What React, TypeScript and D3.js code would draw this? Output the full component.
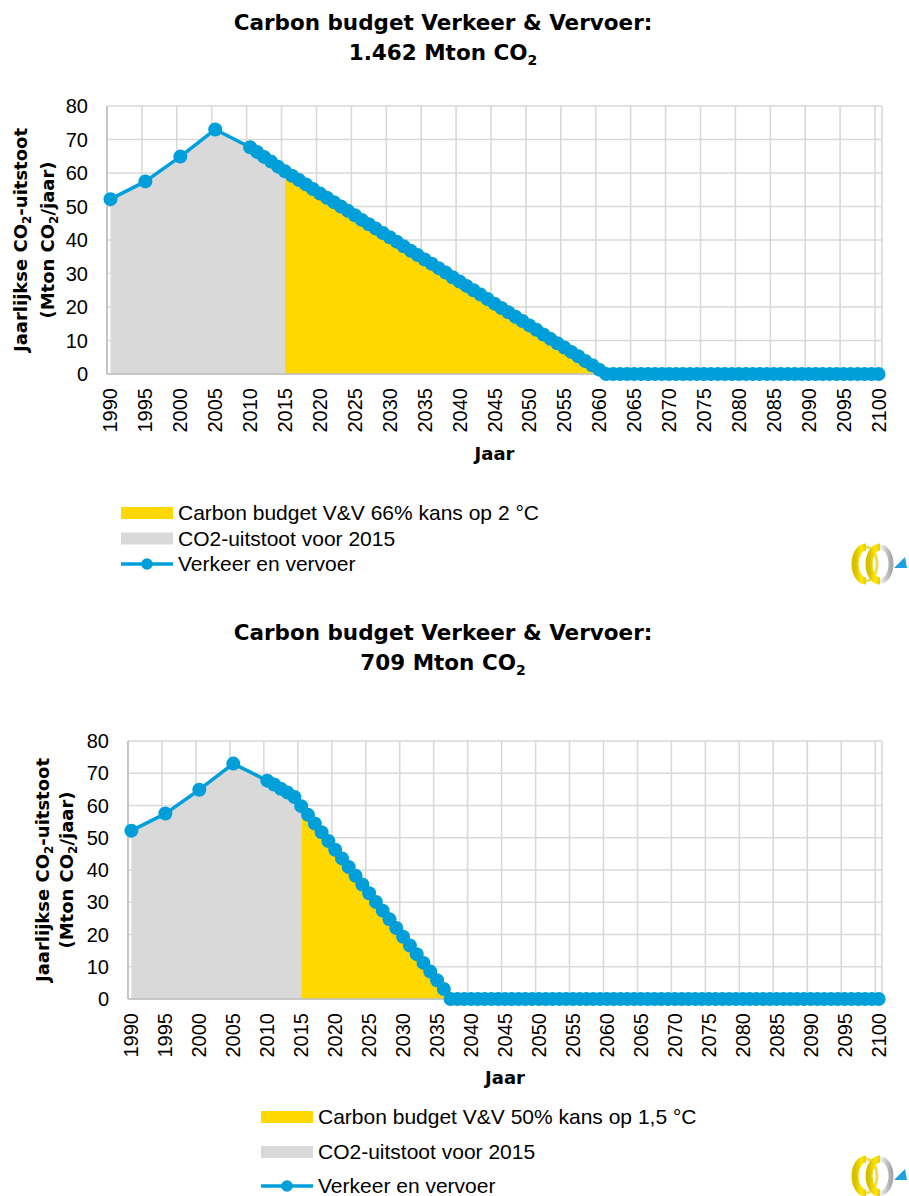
import React from 'react';
import * as d3 from 'd3';

// ---------- data ----------
const histYears = [1990, 1995, 2000, 2005];
const histEmissions = [52.2, 57.5, 64.9, 73.0];

// annual categories 2010 .. 2100
const annualYears = d3.range(2010, 2101);

// Verkeer en vervoer path, 66% kans op 2 °C (2010..2100)
const pathTwoDegrees = [
  67.7, 66.3, 64.8, 63.4, 61.9, 60.5, 59.2, 57.9, 56.6, 55.2,
  53.9, 52.6, 51.3, 50.0, 48.7, 47.4, 46.0, 44.7, 43.4, 42.1,
  40.8, 39.5, 38.1, 36.8, 35.5, 34.2, 32.9, 31.6, 30.3, 28.9,
  27.6, 26.3, 25.0, 23.7, 22.4, 21.0, 19.7, 18.4, 17.1, 15.8,
  14.5, 13.2, 11.8, 10.5, 9.2, 7.9, 6.6, 5.3, 3.9, 2.6,
  1.3, 0, 0, 0, 0, 0, 0, 0, 0, 0,
  0, 0, 0, 0, 0, 0, 0, 0, 0, 0,
  0, 0, 0, 0, 0, 0, 0, 0, 0, 0,
  0, 0, 0, 0, 0, 0, 0, 0, 0, 0,
  0,
];

// Verkeer en vervoer path, 50% kans op 1,5 °C (2010..2100)
const pathOnePointFive = [
  67.7, 66.5, 65.2, 64.0, 62.6, 59.8, 57.1, 54.4, 51.7, 49.0,
  46.3, 43.6, 40.9, 38.2, 35.5, 32.8, 30.1, 27.4, 24.7, 22.0,
  19.3, 16.6, 13.9, 11.2, 8.5, 5.8, 3.1, 0, 0, 0,
  0, 0, 0, 0, 0, 0, 0, 0, 0, 0,
  0, 0, 0, 0, 0, 0, 0, 0, 0, 0,
  0, 0, 0, 0, 0, 0, 0, 0, 0, 0,
  0, 0, 0, 0, 0, 0, 0, 0, 0, 0,
  0, 0, 0, 0, 0, 0, 0, 0, 0, 0,
  0, 0, 0, 0, 0, 0, 0, 0, 0, 0,
  0,
];

const yTickValues = [0, 10, 20, 30, 40, 50, 60, 70, 80];
const xTickLabels = [
  '1990', '1995', '2000', '2005', '2010', '2015', '2020', '2025', '2030', '2035',
  '2040', '2045', '2050', '2055', '2060', '2065', '2070', '2075', '2080', '2085',
  '2090', '2095', '2100',
];

const titleLine1 = 'Carbon budget Verkeer & Vervoer:';
const budgetTwoDegrees = '1.462 Mton CO';
const budgetOnePointFive = '709 Mton CO';
const legendBudgetTwoDegrees = 'Carbon budget V&V 66% kans op 2 °C';
const legendBudgetOnePointFive = 'Carbon budget V&V 50% kans op 1,5 °C';
const legendHistory = 'CO2-uitstoot voor 2015';
const legendSeries = 'Verkeer en vervoer';
const yTitle1 = 'Jaarlijkse CO';
const yTitle1b = '-uitstoot';
const yTitle2a = '(Mton CO';
const yTitle2b = '/jaar)';
const xTitle = 'Jaar';
const splitYear = 2015;

// ---------- styles ----------
const BLUE = '#009FDA';
const YELLOW = '#FFD800';
const GREY = '#D9D9D9';
const GRID = '#D9D9D9';
const TITLE_FONT = '"DejaVu Sans", Verdana, sans-serif';
const TEXT_FONT = '"Liberation Sans", Arial, sans-serif';

type Cfg = {
  values: number[];
  left: number; right: number; top: number; bottom: number;
  titleX: number; title1Y: number; title2Y: number; budgetText: string;
  yTitleY1: number; yTitleY2: number;
  xTitleY: number; tickTopY: number;
  legendX: number; legendYs: number[]; legendBudget: string;
  logoX: number; logoY: number; id: string;
};

function Logo({ x, y, id }: { x: number; y: number; id: string }) {
  const arc = (cx: number, rx: number, left: boolean) =>
    `M${cx},2 A${rx},17 0 0 ${left ? 0 : 1} ${cx},36`;
  return (
    <g transform={`translate(${x},${y})`}>
      <defs>
        <linearGradient id={`ly${id}`} x1="0" x2="1" y1="0" y2="0">
          <stop offset="0" stopColor="#D8C000" />
          <stop offset="0.6" stopColor="#FFE800" />
          <stop offset="1" stopColor="#E6CC00" />
        </linearGradient>
        <linearGradient id={`lgr${id}`} x1="0" x2="1" y1="0" y2="0">
          <stop offset="0" stopColor="#F2F2F2" />
          <stop offset="1" stopColor="#A8A8A8" />
        </linearGradient>
      </defs>
      <path d={arc(15, 11, false)} fill="none" stroke="#EEDD55" strokeWidth={3} />
      <path d={arc(15, 11, true)} fill="none" stroke={`url(#ly${id})`} strokeWidth={7} />
      <path d={arc(29, 11, false)} fill="none" stroke={`url(#lgr${id})`} strokeWidth={5} />
      <path d={arc(29, 11, true)} fill="none" stroke={`url(#ly${id})`} strokeWidth={7} />
      <polygon points="54,12 43,23 56,23" fill="#1DA1E2" />
    </g>
  );
}

function Chart({ cfg }: { cfg: Cfg }) {
  const x = d3.scaleLinear().domain([1989.5, 2100.5]).range([cfg.left, cfg.right]);
  const y = d3.scaleLinear().domain([0, 80]).range([cfg.bottom, cfg.top]);
  const data = [
    ...histYears.map((yr, i) => ({ year: yr, value: histEmissions[i] })),
    ...annualYears.map((yr, i) => ({ year: yr, value: cfg.values[i] })),
  ];
  const line = d3.line<{ year: number; value: number }>()
    .x((d) => x(d.year)).y((d) => y(d.value));
  const area = d3.area<{ year: number; value: number }>()
    .x((d) => x(d.year)).y0(y(0)).y1((d) => y(d.value));
  const history = data.filter((d) => d.year <= splitYear);
  const budget = data.filter((d) => d.year >= splitYear);
  const gridX = xTickLabels.map((t) => +t - 0.5);
  const plotMid = (cfg.top + cfg.bottom) / 2;
  const [l1, l2, l3] = cfg.legendYs;

  return (
    <g>
      {/* title */}
      <text x={cfg.titleX} y={cfg.title1Y} textAnchor="middle" fontFamily={TITLE_FONT}
        fontWeight="bold" fontSize={21.5} fill="#000">{titleLine1}</text>
      <text x={cfg.titleX} y={cfg.title2Y} textAnchor="middle" fontFamily={TITLE_FONT}
        fontWeight="bold" fontSize={21.5} fill="#000">
        {cfg.budgetText}<tspan fontSize={14} dy={5}>2</tspan>
      </text>

      {/* gridlines */}
      {yTickValues.map((v) => (
        <line key={`h${v}`} x1={cfg.left} x2={cfg.right} y1={y(v)} y2={y(v)}
          stroke={GRID} strokeWidth={1.6} />
      ))}
      {gridX.map((g) => (
        <line key={`v${g}`} x1={x(g)} x2={x(g)} y1={cfg.top} y2={cfg.bottom}
          stroke={GRID} strokeWidth={1.6} />
      ))}
      <line x1={cfg.right} x2={cfg.right} y1={cfg.top} y2={cfg.bottom} stroke={GRID} strokeWidth={1.6} />

      {/* areas */}
      <path d={area(history) ?? ''} fill={GREY} />
      <path d={area(budget) ?? ''} fill={YELLOW} />

      {/* axis line */}
      <line x1={cfg.left} x2={cfg.right} y1={y(0)} y2={y(0)} stroke="#BFBFBF" strokeWidth={1.6} />
      <line x1={cfg.left} x2={cfg.left} y1={cfg.top} y2={cfg.bottom} stroke="#BFBFBF" strokeWidth={1.6} />

      {/* series */}
      <path d={line(data) ?? ''} fill="none" stroke={BLUE} strokeWidth={3.5}
        strokeLinejoin="round" />
      {data.map((d) => (
        <circle key={d.year} cx={x(d.year)} cy={y(d.value)} r={7} fill={BLUE} />
      ))}

      {/* y ticks */}
      {yTickValues.map((v) => (
        <text key={`yt${v}`} x={cfg.left - 19} y={y(v)} dy="0.35em" textAnchor="end"
          fontFamily={TEXT_FONT} fontSize={20} fill="#000">{v}</text>
      ))}
      {/* x ticks */}
      {xTickLabels.map((t) => (
        <text key={`xt${t}`} transform={`translate(${x(+t)},${cfg.tickTopY}) rotate(-90)`}
          dy="0.35em" textAnchor="end" fontFamily={TEXT_FONT} fontSize={20} fill="#000">{t}</text>
      ))}

      {/* axis titles */}
      <text transform={`translate(${cfg.yTitleY1},${plotMid}) rotate(-90)`} textAnchor="middle"
        fontFamily={TITLE_FONT} fontWeight="bold" fontSize={18} fill="#000">
        {yTitle1}<tspan fontSize={12} dy={4}>2</tspan><tspan dy={-4}>{yTitle1b}</tspan>
      </text>
      <text transform={`translate(${cfg.yTitleY2},${plotMid}) rotate(-90)`} textAnchor="middle"
        fontFamily={TITLE_FONT} fontWeight="bold" fontSize={18} fill="#000">
        {yTitle2a}<tspan fontSize={12} dy={4}>2</tspan><tspan dy={-4}>{yTitle2b}</tspan>
      </text>
      <text x={(cfg.left + cfg.right) / 2} y={cfg.xTitleY} textAnchor="middle"
        fontFamily={TITLE_FONT} fontWeight="bold" fontSize={18} fill="#000">{xTitle}</text>

      {/* legend */}
      <rect x={cfg.legendX} y={l1 - 6} width={52} height={12} fill={YELLOW} />
      <text x={cfg.legendX + 57} y={l1 + 7} fontFamily={TEXT_FONT} fontSize={21} fill="#000">
        {cfg.legendBudget}</text>
      <rect x={cfg.legendX} y={l2 - 6} width={52} height={12} fill={GREY} />
      <text x={cfg.legendX + 57} y={l2 + 7} fontFamily={TEXT_FONT} fontSize={21} fill="#000">
        {legendHistory}</text>
      <line x1={cfg.legendX} x2={cfg.legendX + 52} y1={l3} y2={l3} stroke={BLUE} strokeWidth={3.5} />
      <circle cx={cfg.legendX + 26} cy={l3} r={5.8} fill={BLUE} />
      <text x={cfg.legendX + 57} y={l3 + 7} fontFamily={TEXT_FONT} fontSize={21} fill="#000">
        {legendSeries}</text>

      <Logo x={cfg.logoX} y={cfg.logoY} id={cfg.id} />
    </g>
  );
}

const topCfg: Cfg = {
  values: pathTwoDegrees,
  left: 107, right: 882, top: 106, bottom: 374,
  titleX: 443, title1Y: 30, title2Y: 60, budgetText: budgetTwoDegrees,
  yTitleY1: 27, yTitleY2: 54, xTitleY: 460, tickTopY: 388,
  legendX: 121, legendYs: [513, 538.5, 564], legendBudget: legendBudgetTwoDegrees,
  logoX: 851, logoY: 545, id: 'a',
};

const bottomCfg: Cfg = {
  values: pathOnePointFive,
  left: 128, right: 882, top: 741, bottom: 999,
  titleX: 443, title1Y: 640, title2Y: 670, budgetText: budgetOnePointFive,
  yTitleY1: 49, yTitleY2: 73, xTitleY: 1084, tickTopY: 1013,
  legendX: 261, legendYs: [1117, 1152, 1186], legendBudget: legendBudgetOnePointFive,
  logoX: 851, logoY: 1157, id: 'b',
};

export default function App() {
  return (
    <svg width={909} height={1196} viewBox="0 0 909 1196"
      style={{ position: 'absolute', left: 0, top: 0, display: 'block', background: '#fff' }}>
      <rect width={909} height={1196} fill="#fff" />
      <Chart cfg={topCfg} />
      <Chart cfg={bottomCfg} />
    </svg>
  );
}
